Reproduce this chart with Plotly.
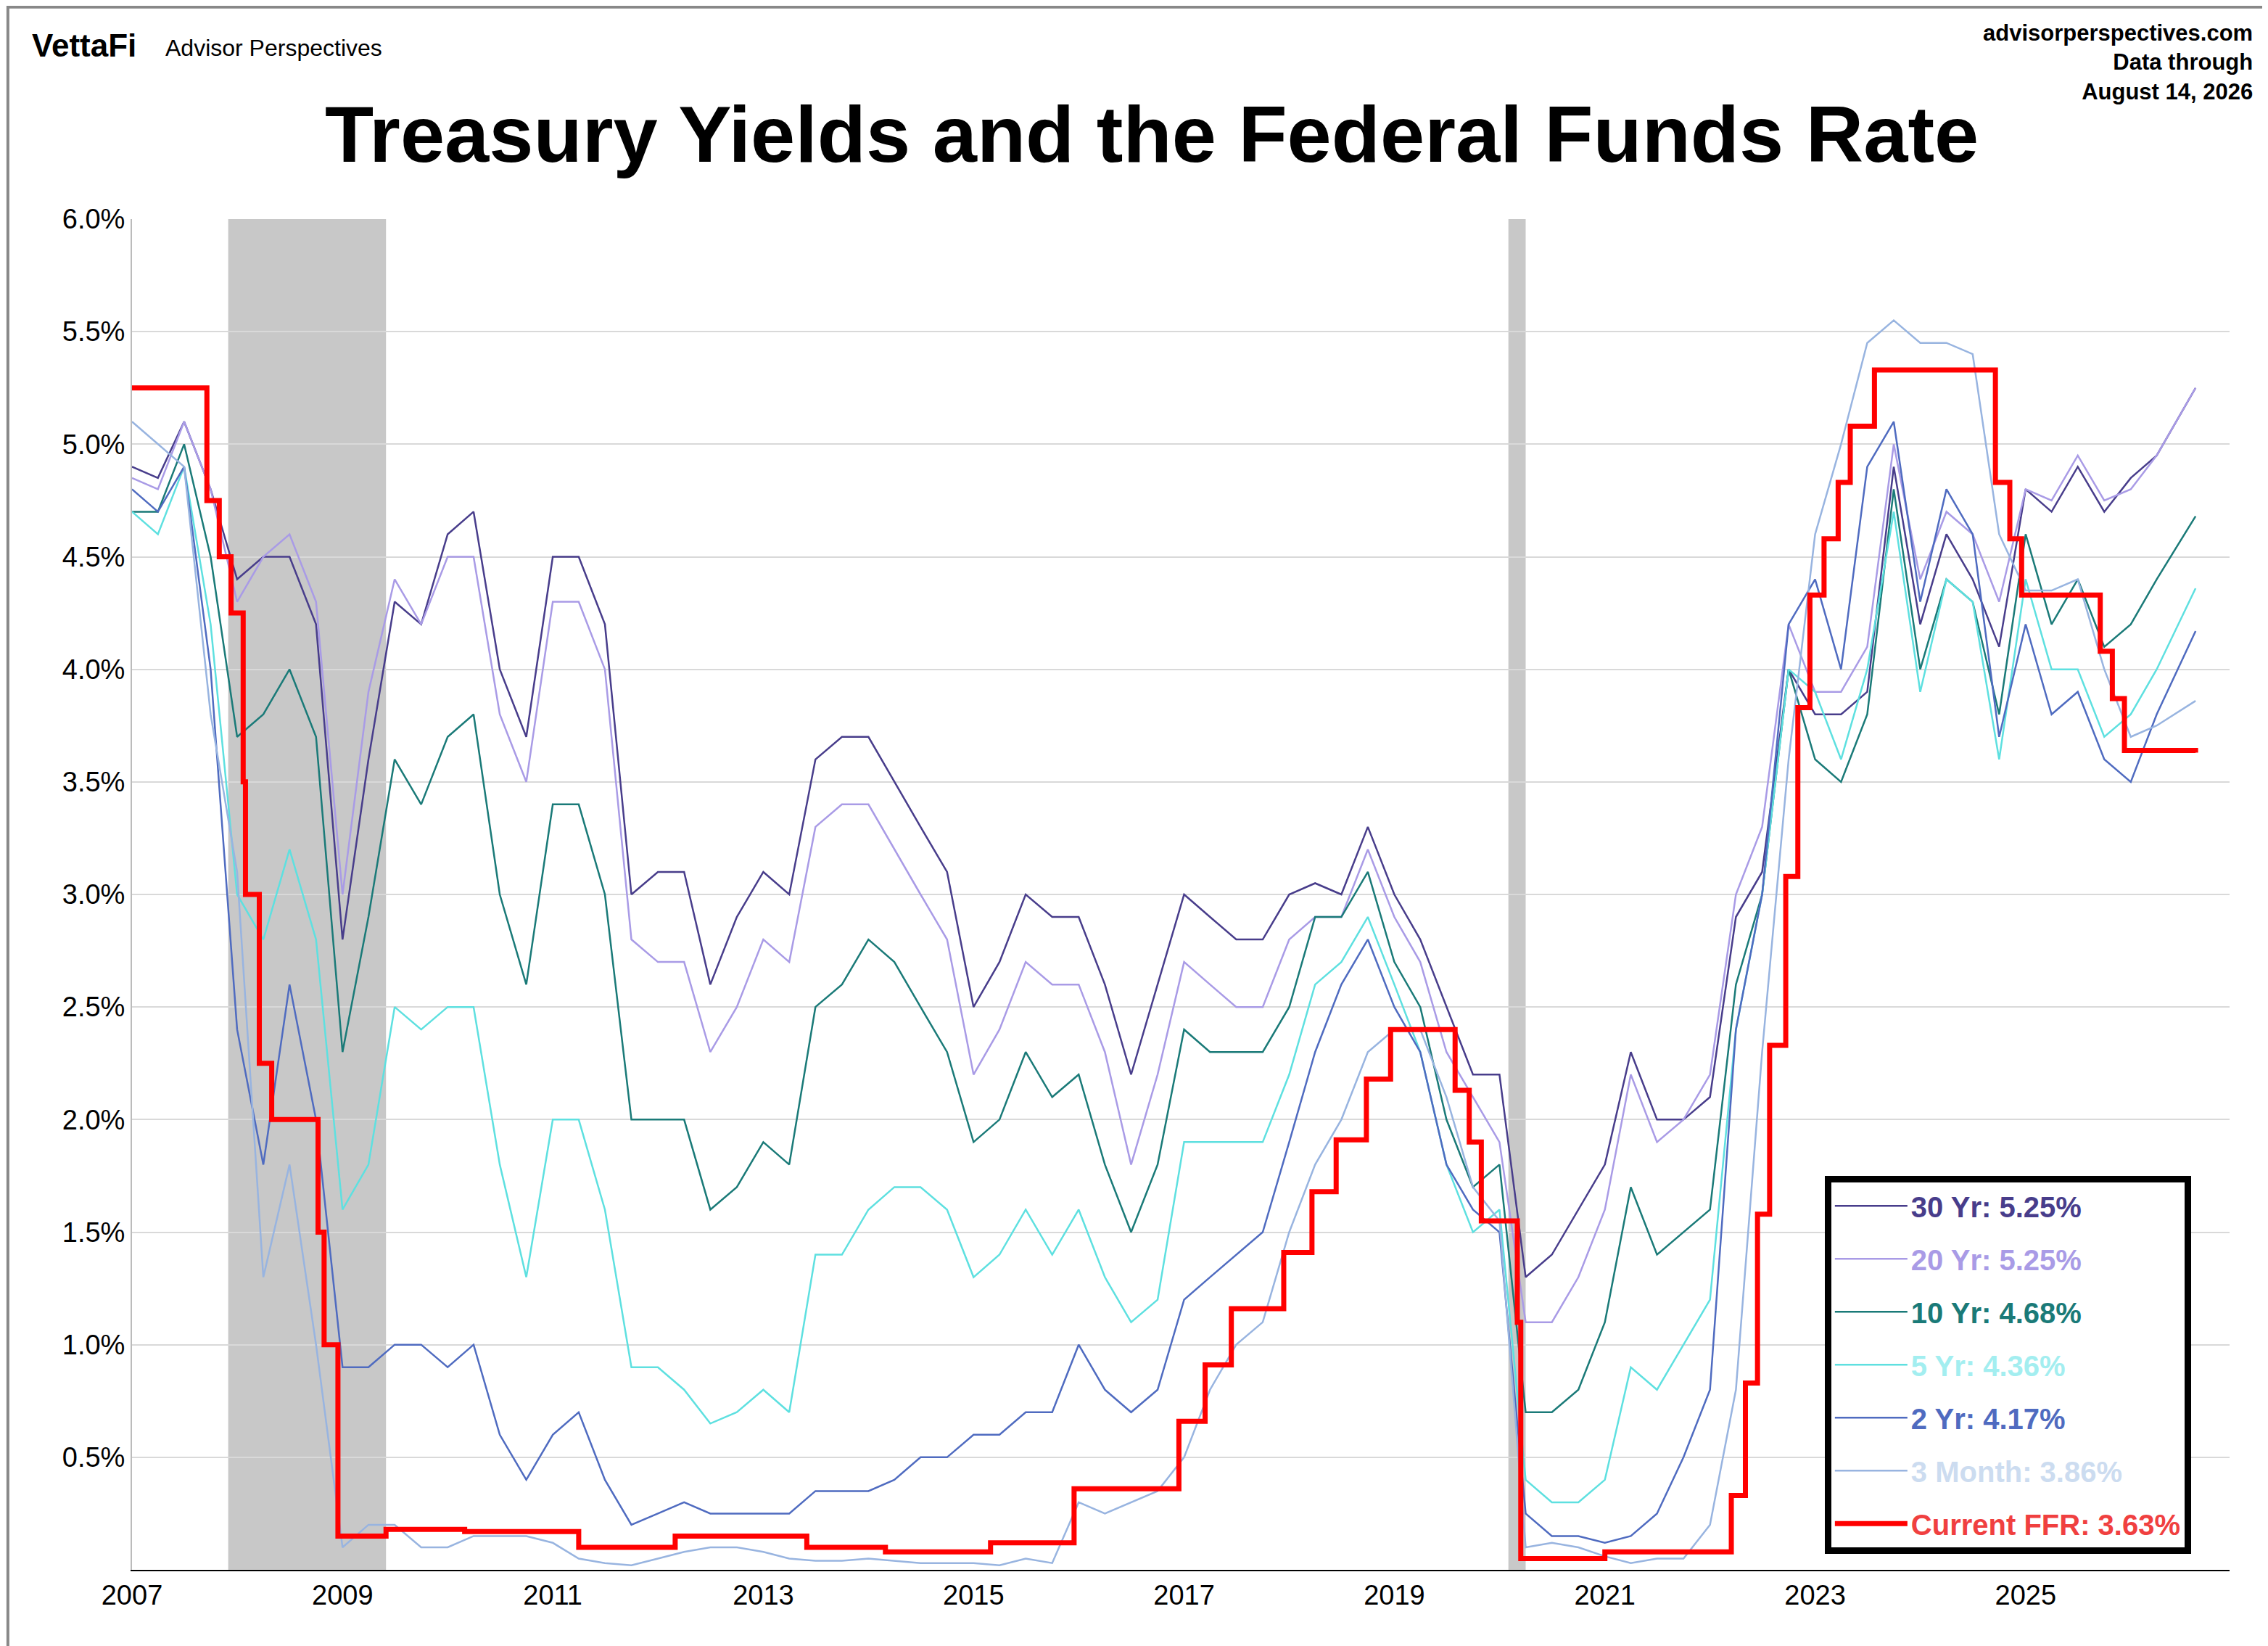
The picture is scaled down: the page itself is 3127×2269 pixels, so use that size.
import pandas as pd
import plotly.graph_objects as go

# quarterly readings (Jan/Apr/Jul/Oct) from 2007 through Apr 2026, then the last day
dates = [d.strftime("%Y-%m-%d") for d in pd.date_range("2007-01-01", "2026-04-01", freq="QS")] + ["2026-08-14"]

y30 = [4.9, 4.85, 5.1, 4.8, 4.4, 4.5, 4.5, 4.2,
       2.8, 3.6, 4.3, 4.2, 4.6, 4.7, 4.0, 3.7,
       4.5, 4.5, 4.2, 3.0, 3.1, 3.1, 2.6, 2.9,
       3.1, 3.0, 3.6, 3.7, 3.7, 3.5, 3.3, 3.1,
       2.5, 2.7, 3.0, 2.9, 2.9, 2.6, 2.2, 2.6,
       3.0, 2.9, 2.8, 2.8, 3.0, 3.05, 3.0, 3.3,
       3.0, 2.8, 2.5, 2.2, 2.2, 1.3, 1.4, 1.6,
       1.8, 2.3, 2.0, 2.0, 2.1, 2.9, 3.1, 4.0,
       3.8, 3.8, 3.9, 4.9, 4.2, 4.6, 4.4, 4.1,
       4.8, 4.7, 4.9, 4.7, 4.85, 4.95, 5.25]
y20 = [4.85, 4.8, 5.1, 4.8, 4.3, 4.5, 4.6, 4.3,
       3.0, 3.9, 4.4, 4.2, 4.5, 4.5, 3.8, 3.5,
       4.3, 4.3, 4.0, 2.8, 2.7, 2.7, 2.3, 2.5,
       2.8, 2.7, 3.3, 3.4, 3.4, 3.2, 3.0, 2.8,
       2.2, 2.4, 2.7, 2.6, 2.6, 2.3, 1.8, 2.2,
       2.7, 2.6, 2.5, 2.5, 2.8, 2.9, 2.9, 3.2,
       2.9, 2.7, 2.3, 2.1, 1.9, 1.1, 1.1, 1.3,
       1.6, 2.2, 1.9, 2.0, 2.2, 3.0, 3.3, 4.2,
       3.9, 3.9, 4.1, 5.0, 4.4, 4.7, 4.6, 4.3,
       4.8, 4.75, 4.95, 4.75, 4.8, 4.95, 5.25]
y10 = [4.7, 4.7, 5.0, 4.5, 3.7, 3.8, 4.0, 3.7,
       2.3, 2.9, 3.6, 3.4, 3.7, 3.8, 3.0, 2.6,
       3.4, 3.4, 3.0, 2.0, 2.0, 2.0, 1.6, 1.7,
       1.9, 1.8, 2.5, 2.6, 2.8, 2.7, 2.5, 2.3,
       1.9, 2.0, 2.3, 2.1, 2.2, 1.8, 1.5, 1.8,
       2.4, 2.3, 2.3, 2.3, 2.5, 2.9, 2.9, 3.1,
       2.7, 2.5, 2.0, 1.7, 1.8, 0.7, 0.7, 0.8,
       1.1, 1.7, 1.4, 1.5, 1.6, 2.6, 3.0, 4.0,
       3.6, 3.5, 3.8, 4.8, 4.0, 4.4, 4.3, 3.8,
       4.6, 4.2, 4.4, 4.1, 4.2, 4.4, 4.68]
y5 = [4.7, 4.6, 4.9, 4.2, 3.0, 2.8, 3.2, 2.8,
      1.6, 1.8, 2.5, 2.4, 2.5, 2.5, 1.8, 1.3,
      2.0, 2.0, 1.6, 0.9, 0.9, 0.8, 0.65, 0.7,
      0.8, 0.7, 1.4, 1.4, 1.6, 1.7, 1.7, 1.6,
      1.3, 1.4, 1.6, 1.4, 1.6, 1.3, 1.1, 1.2,
      1.9, 1.9, 1.9, 1.9, 2.2, 2.6, 2.7, 2.9,
      2.6, 2.3, 1.8, 1.5, 1.6, 0.4, 0.3, 0.3,
      0.4, 0.9, 0.8, 1.0, 1.2, 2.4, 3.0, 4.0,
      3.9, 3.6, 4.0, 4.7, 3.9, 4.4, 4.3, 3.6,
      4.4, 4.0, 4.0, 3.7, 3.8, 4.0, 4.36]
y2 = [4.8, 4.7, 4.9, 4.0, 2.4, 1.8, 2.6, 2.0,
      0.9, 0.9, 1.0, 1.0, 0.9, 1.0, 0.6, 0.4,
      0.6, 0.7, 0.4, 0.2, 0.25, 0.3, 0.25, 0.25,
      0.25, 0.25, 0.35, 0.35, 0.35, 0.4, 0.5, 0.5,
      0.6, 0.6, 0.7, 0.7, 1.0, 0.8, 0.7, 0.8,
      1.2, 1.3, 1.4, 1.5, 1.9, 2.3, 2.6, 2.8,
      2.5, 2.3, 1.8, 1.6, 1.5, 0.25, 0.15, 0.15,
      0.12, 0.15, 0.25, 0.5, 0.8, 2.4, 3.0, 4.2,
      4.4, 4.0, 4.9, 5.1, 4.3, 4.8, 4.6, 3.7,
      4.2, 3.8, 3.9, 3.6, 3.5, 3.8, 4.17]
y3m = [5.1, 5.0, 4.9, 3.8, 3.1, 1.3, 1.8, 1.0,
       0.1, 0.2, 0.2, 0.1, 0.1, 0.15, 0.15, 0.15,
       0.12, 0.05, 0.03, 0.02, 0.05, 0.08, 0.1, 0.1,
       0.08, 0.05, 0.04, 0.04, 0.05, 0.04, 0.03, 0.03,
       0.03, 0.02, 0.05, 0.03, 0.3, 0.25, 0.3, 0.35,
       0.5, 0.8, 1.0, 1.1, 1.5, 1.8, 2.0, 2.3,
       2.4, 2.4, 2.1, 1.7, 1.55, 0.1, 0.12, 0.1,
       0.06, 0.03, 0.05, 0.05, 0.2, 0.8, 2.3, 3.6,
       4.6, 5.0, 5.45, 5.55, 5.45, 5.45, 5.4, 4.6,
       4.35, 4.35, 4.4, 4.0, 3.7, 3.75, 3.86]

ffr_dates = ["2007-01-01", "2007-09-18", "2007-10-31", "2007-12-11", "2008-01-22", "2008-01-30",
             "2008-03-18", "2008-04-30", "2008-10-08", "2008-10-29", "2008-12-16", "2009-06-01",
             "2010-03-01", "2011-04-01", "2012-03-01", "2013-06-01", "2014-03-01", "2015-03-01",
             "2015-12-16", "2016-12-14", "2017-03-15", "2017-06-14", "2017-12-13", "2018-03-21",
             "2018-06-13", "2018-09-26", "2018-12-19", "2019-07-31", "2019-09-18", "2019-10-30",
             "2020-03-03", "2020-03-15", "2021-01-01", "2022-03-16", "2022-05-04", "2022-06-15",
             "2022-07-27", "2022-09-21", "2022-11-02", "2022-12-14", "2023-02-01", "2023-03-22",
             "2023-05-03", "2023-07-26", "2024-09-18", "2024-11-07", "2024-12-18", "2025-09-17",
             "2025-10-29", "2025-12-10", "2026-08-14"]
ffr = [5.25, 4.75, 4.5, 4.25, 3.5, 3.0,
       2.25, 2.0, 1.5, 1.0, 0.15, 0.18,
       0.17, 0.1, 0.15, 0.1, 0.08, 0.12,
       0.36, 0.66, 0.91, 1.16, 1.41, 1.68,
       1.91, 2.18, 2.4, 2.13, 1.9, 1.55,
       1.1, 0.05, 0.08, 0.33, 0.83, 1.58,
       2.33, 3.08, 3.83, 4.33, 4.58, 4.83,
       5.08, 5.33, 4.83, 4.58, 4.33, 4.08,
       3.87, 3.64, 3.63]

recessions = [("2007-12-01", "2009-06-01"), ("2020-02-01", "2020-04-01")]

ytick_vals = [0.5, 1, 1.5, 2, 2.5, 3, 3.5, 4, 4.5, 5, 5.5, 6]

series = [
    ("30 Yr", y30, "#483D8B", "#483D8B"),
    ("20 Yr", y20, "#A99BE6", "#A99BE6"),
    ("10 Yr", y10, "#1A7A78", "#1A7A78"),
    ("5 Yr", y5, "#5EE0E0", "#A3EEF0"),
    ("2 Yr", y2, "#4F6BC0", "#4F6BC0"),
    ("3 Month", y3m, "#98B4E0", "#CCDCF0"),
]

fig = go.Figure()
for name, vals, col, tcol in series:
    label = "<span style='color:%s'><b>%s: %.2f%%</b></span>" % (tcol, name, vals[-1])
    fig.add_trace(go.Scatter(x=dates, y=vals, mode="lines", name=label, legendgroup=name,
                             line=dict(color=col, width=2.5)))
fig.add_trace(go.Scatter(x=ffr_dates, y=ffr, mode="lines", line_shape="hv", legendgroup="ffr",
                         name="<span style='color:#F04040'><b>Current FFR: %.2f%%</b></span>" % ffr[-1],
                         line=dict(color="#FF0000", width=7)))

for a, b in recessions:
    fig.add_shape(type="rect", xref="x", yref="paper", x0=a, x1=b, y0=0, y1=1,
                  fillcolor="#C8C8C8", line_width=0, layer="below")

W, H = 3127, 2269
L, R, T, B = 174, 61, 294, 113
pw, ph = W - L - R, H - T - B
fig.add_shape(type="rect", xref="paper", yref="paper", x0=-L / pw + 0.001, x1=(W - L) / pw - 0.001,
              y0=-B / ph + 0.001, y1=(H - B) / ph - 0.001, line=dict(color="#888888", width=4))

fig.add_annotation(text="<b>Treasury Yields and the Federal Funds Rate</b>", xref="paper", yref="paper",
                   x=(1580 - L) / pw, y=(H - B - 176) / ph, showarrow=False, font=dict(size=110, color="black"),
                   xanchor="center", yanchor="middle")
fig.add_annotation(text="<b>VettaFi</b>", xref="paper", yref="paper", x=(34 - L) / pw, y=(H - B - 54) / ph,
                   showarrow=False, xanchor="left", yanchor="middle", font=dict(size=44, color="black"))
fig.add_annotation(text="Advisor Perspectives", xref="paper", yref="paper", x=(218 - L) / pw,
                   y=(H - B - 58) / ph, showarrow=False, xanchor="left", yanchor="middle",
                   font=dict(size=32, color="black"))
fig.add_annotation(text="<b>advisorperspectives.com<br>Data through<br>August 14, 2026</b>", xref="paper",
                   yref="paper", x=(3100 - L) / pw, y=(H - B - 18) / ph, showarrow=False, xanchor="right",
                   yanchor="top", align="right", font=dict(size=31, color="black"))

fig.update_layout(
    width=W, height=H, margin=dict(l=L, r=R, t=T, b=B),
    plot_bgcolor="white", paper_bgcolor="white",
    font=dict(family="Liberation Sans, Arial", color="black"),
    showlegend=True,
    legend=dict(x=0.807, y=0.012, xanchor="left", yanchor="bottom", bgcolor="white",
                bordercolor="black", borderwidth=9, font=dict(size=40), tracegroupgap=18,
                itemwidth=100),
    xaxis=dict(type="date", range=["2007-01-01", "2026-12-10"], tick0="2007-01-01", dtick="M24",
               tickformat="%Y", showgrid=False, showline=True, linecolor="black", linewidth=2,
               ticks="", tickfont=dict(size=38)),
    yaxis=dict(range=[0, 6.0], tickvals=ytick_vals, ticktext=["%.1f%%" % v for v in ytick_vals],
               showgrid=True, gridcolor="#D9D9D9", gridwidth=2,
               showline=True, linecolor="#BBBBBB", linewidth=2, zeroline=False, tickfont=dict(size=38)),
)

fig.write_html("out.html")
